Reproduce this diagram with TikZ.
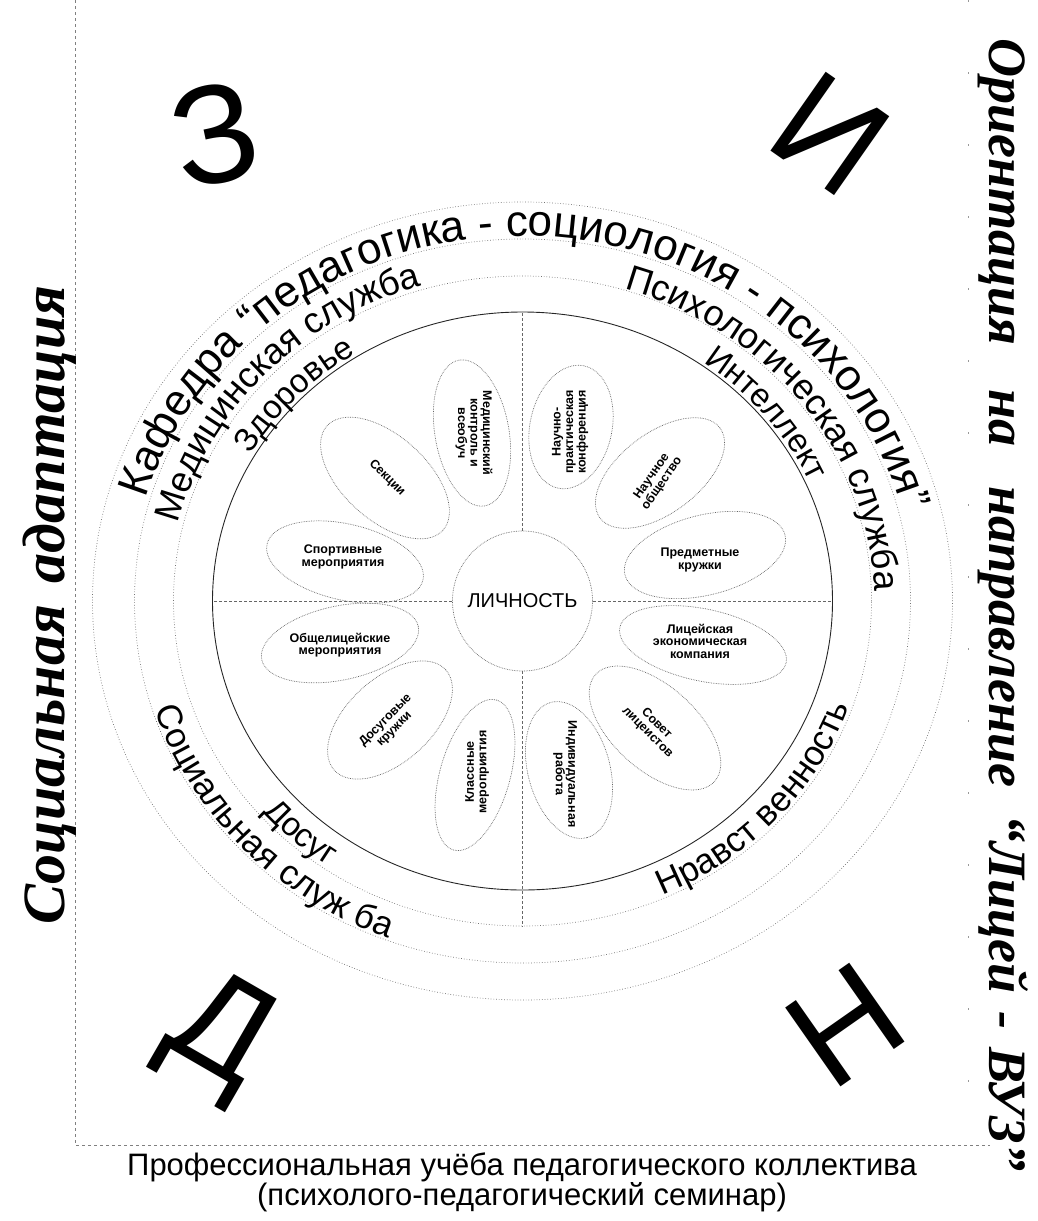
\documentclass[tikz,border=0pt]{standalone}
\usepackage{fontspec}
\setmainfont{Liberation Sans}
\newfontfamily\sidefam{Liberation Serif}
\usetikzlibrary{shapes.geometric,decorations.text,calc}
\newcommand\ringA{\fontsize{44}{44}\selectfont}
\newcommand\ringB{\fontsize{36}{36}\selectfont}
\newcommand\ringC{\fontsize{33}{33}\selectfont}
\newcommand\ringD{\fontsize{35}{35}\selectfont}
\begin{document}
\begin{tikzpicture}[x=1pt,y=1pt,
  ring/.style={draw=black!55, dotted, line width=0.7pt},
  solidring/.style={draw=black!85, line width=0.9pt},
  petal/.style={draw=black!60, densely dotted, line width=0.7pt, ellipse, inner sep=0pt},
  ptext/.style={font=\fontsize{12.5}{12.5}\selectfont\bfseries, align=center, inner sep=0pt},
  bigletter/.style={font=\fontsize{140}{140}\selectfont, inner sep=0pt},
  sidetext/.style={inner sep=0pt},
  axis/.style={draw=black!60, densely dashed, line width=0.6pt},
  frame/.style={draw=black!50, dashed, line width=0.6pt},
]
\useasboundingbox (0,0) rectangle (1037,-1221);
\coordinate (C) at (522.5,-601);

% frame
\coordinate (f1) at (75,0);
\coordinate (f2) at (75,-1145);
\coordinate (f3) at (990,-1145);
\coordinate (f4) at (968,0);
\coordinate (f5) at (968,-1145);
\draw[frame] (f1) -- (f2) -- (f3);
\draw[draw=black!40, dash pattern=on 2pt off 70pt, line width=0.6pt] (f4) -- (f5);

% rings
\draw[ring] (C) ellipse [x radius=430, y radius=399];
\draw[ring] (C) ellipse [x radius=388, y radius=362];
\draw[ring] (C) ellipse [x radius=349, y radius=325];
\draw[solidring] (C) ellipse [x radius=310, y radius=289];

% centre
\node[circle, draw=black!60, densely dotted, line width=0.7pt, minimum size=140, inner sep=0pt,
      font=\fontsize{20}{20}\selectfont] (lich) at (C) {ЛИЧНОСТЬ};
\coordinate (vt) at ($(C)+(0,289)$);
\coordinate (vb) at ($(C)+(0,-326)$);
\coordinate (hl) at ($(C)+(-310,0)$);
\coordinate (hr) at ($(C)+(310,0)$);
\draw[axis] (lich.north) -- (vt);
\draw[axis] (lich.south) -- (vb);
\draw[axis] (lich.west) -- (hl);
\draw[axis] (lich.east) -- (hr);

% petals
\node[petal, minimum width=148, minimum height=74, rotate=100] (p1) at (472,-433) {};
\node[petal, minimum width=125, minimum height=82, rotate=78] (p2) at (571,-427) {};
\node[petal, minimum width=150, minimum height=80, rotate=37] (p3) at (660,-473) {};
\node[petal, minimum width=165, minimum height=80, rotate=14] (p4) at (705,-555) {};
\node[petal, minimum width=170, minimum height=72, rotate=-12] (p5) at (703,-645) {};
\node[petal, minimum width=160, minimum height=84, rotate=-42] (p6) at (655,-728) {};
\node[petal, minimum width=140, minimum height=82, rotate=-75] (p7) at (569,-770) {};
\node[petal, minimum width=156, minimum height=70, rotate=74] (p8) at (475,-775) {};
\node[petal, minimum width=150, minimum height=84, rotate=42] (p9) at (390,-720) {};
\node[petal, minimum width=160, minimum height=74, rotate=12] (p10) at (340,-643) {};
\node[petal, minimum width=160, minimum height=76, rotate=-13] (p11) at (345,-562) {};
\node[petal, minimum width=156, minimum height=84, rotate=-42] (p12) at (385,-478) {};

\node[ptext, rotate=-90] (t1) at (474,-433) {Медицинский\\контроль и\\всеобуч};
\node[ptext, rotate=90] (t2) at (570,-432) {Научно-\\практическая\\конференция};
\node[ptext, rotate=55] (t3) at (657,-480) {Научное\\общество};
\node[ptext] (t4) at (700,-560) {Предметные\\кружки};
\node[ptext] (t5) at (700,-641) {Лицейская\\экономическая\\компания};
\node[ptext, rotate=-45] (t6) at (652,-728) {Совет\\лицеистов};
\node[ptext, rotate=-90] (t7) at (565,-774) {Индивидуальная\\работа};
\node[ptext, rotate=90] (t8) at (477,-772) {Классные\\мероприятия};
\node[ptext, rotate=45] (t9) at (390,-725) {Досуговые\\кружки};
\node[ptext] (t10) at (340,-645) {Общелицейские\\мероприятия};
\node[ptext] (t11) at (343,-557) {Спортивные\\мероприятия};
\node[ptext, rotate=-45] (t12) at (387,-478) {Секции};

% ring texts (top, clockwise)
\path[decorate, decoration={text along path, text align=center,
  text={|\ringA|Кафедра “педагогика - социология - психология”}}]
  ($(C)+(179:392 and 365)$) arc[start angle=179, end angle=-1, x radius=392, y radius=365];
\path[decorate, decoration={text along path, text align=center,
  text={|\ringB|Медицинская служба}}]
  ($(C)+(182:354 and 329)$) arc[start angle=182, end angle=92, x radius=354, y radius=329];
\path[decorate, decoration={text along path, text align=center,
  text={|\ringB|Психологическая служба}}]
  ($(C)+(86:352 and 326)$) arc[start angle=86, end angle=-12, x radius=352, y radius=326];
\path[decorate, decoration={text along path, text align=center,
  text={|\ringC|Здоровье}}]
  ($(C)+(170:314 and 292)$) arc[start angle=170, end angle=103, x radius=314, y radius=292];
\path[decorate, decoration={text along path, text align=center,
  text={|\ringC|Интеллект}}]
  ($(C)+(72:314 and 292)$) arc[start angle=72, end angle=6, x radius=314, y radius=292];
% ring texts (bottom, counter-clockwise)
\path[decorate, decoration={text along path, text align=center,
  text={|\ringC|Досуг}}]
  ($(C)+(200:345 and 321)$) arc[start angle=200, end angle=256, x radius=345, y radius=321];
\path[decorate, decoration={text along path, text align=center,
  text={|\ringD|Социальная служ ба}}]
  ($(C)+(178:386 and 359)$) arc[start angle=178, end angle=268, x radius=386, y radius=359];
\path[decorate, decoration={text along path, text align=center,
  text={|\ringD|Нравст венность}}]
  ($(C)+(-86:346 and 322)$) arc[start angle=-86, end angle=2, x radius=346, y radius=322];

% big letters
\node[bigletter, rotate=12] (lz) at (215,-135) {З};
\node[bigletter, rotate=-35] (li) at (830,-134) {И};
\node[bigletter, rotate=-30] (ld) at (218,-1037) {Д};
\node[bigletter, rotate=35] (ln) at (845,-1025) {Н};

% side texts
\node[sidetext, rotate=90, font=\sidefam\bfseries\itshape\fontsize{60}{60}\selectfont] (sl) at (50,-605) {Социальная\hspace{22pt}адаптация};
\node[sidetext, rotate=-90, font=\sidefam\bfseries\itshape\fontsize{54}{54}\selectfont] (sr) at (1003,-605)
  {Ориентация\hspace{44pt}на\hspace{40pt}направление\hspace{28pt}“Лицей\hspace{18pt}-\hspace{18pt}ВУЗ”};

% bottom text
\node[align=center, inner sep=0pt, font=\fontsize{31}{30}\selectfont] (bt) at (522,-1182)
  {Профессиональная учёба педагогического коллектива\\(психолого-педагогический семинар)};
\end{tikzpicture}
\end{document}
